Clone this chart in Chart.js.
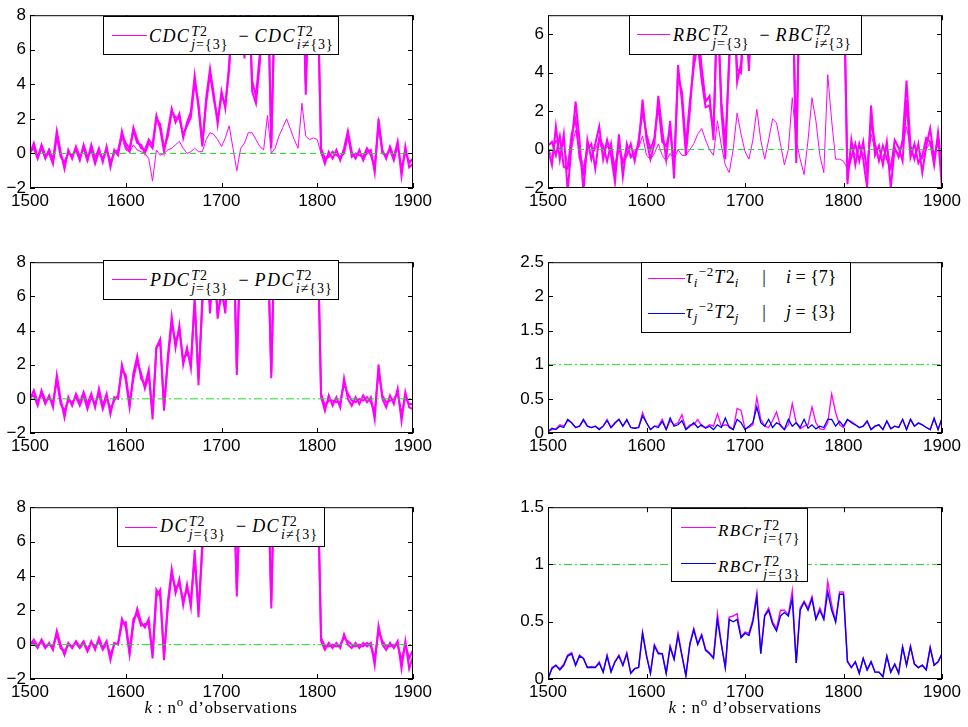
<!DOCTYPE html>
<html>
<head>
<meta charset="utf-8">
<script src="https://cdn.jsdelivr.net/npm/chart.js@4.4.0/dist/chart.umd.min.js"></script>
<style>
  html, body { margin: 0; background: #fff; }
  body { width: 968px; height: 727px; position: relative; overflow: hidden; }
  canvas { position: absolute; }
  .box { position: absolute; box-sizing: border-box; border: 1px solid #000; background: #fff; }
  .smp { position: absolute; height: 1px; }
  .tx { position: absolute; white-space: nowrap; font-family: 'Liberation Serif', serif; font-size: 18px; line-height: 20px; color: #000; }
  .m { font-style: italic; letter-spacing: 1.4px; }
  .ss { display: inline-block; vertical-align: middle; font-size: 14px; line-height: 13px; margin-left: 1px; letter-spacing: 1px; }
  .ss > span { display: block; }
  .op { margin: 0 6px 0 10px; }
  .sb { font-size: 13px; position: relative; top: 4px; letter-spacing: 1px; }
  .sp { font-size: 13px; position: relative; top: -7px; letter-spacing: 1px; }
  .xl { position: absolute; top: 698px; white-space: nowrap; font-family: 'Liberation Serif', serif; font-size: 17px; line-height: 20px; letter-spacing: 0.6px; transform: translateX(-50%); }
</style>
</head>
<body>
<canvas id="c1"></canvas>
<canvas id="c2"></canvas>
<canvas id="c3"></canvas>
<canvas id="c4"></canvas>
<canvas id="c5"></canvas>
<canvas id="c6"></canvas>

<div class="box" style="left:103px;top:16px;width:236px;height:39px"></div>
<div class="smp" style="left:112px;top:35px;width:35px;background:#f0f"></div>
<div class="tx" style="left:149px;top:25px"><span class="m">CDC</span><span class="ss"><span><i>T</i>2</span><span><i>j</i>={3}</span></span><span class="op">−</span><span class="m">CDC</span><span class="ss"><span><i>T</i>2</span><span><i>i</i>≠{3}</span></span></div>

<div class="box" style="left:629px;top:15px;width:233px;height:40px"></div>
<div class="smp" style="left:637px;top:34px;width:33px;background:#f0f"></div>
<div class="tx" style="left:673px;top:24px"><span class="m">RBC</span><span class="ss"><span><i>T</i>2</span><span><i>j</i>={3}</span></span><span class="op">−</span><span class="m">RBC</span><span class="ss"><span><i>T</i>2</span><span><i>i</i>≠{3}</span></span></div>

<div class="box" style="left:103px;top:260px;width:236px;height:40px"></div>
<div class="smp" style="left:112px;top:279px;width:35px;background:#f0f"></div>
<div class="tx" style="left:150px;top:269px"><span class="m">PDC</span><span class="ss"><span><i>T</i>2</span><span><i>j</i>={3}</span></span><span class="op">−</span><span class="m">PDC</span><span class="ss"><span><i>T</i>2</span><span><i>i</i>≠{3}</span></span></div>

<div class="box" style="left:641px;top:262px;width:210px;height:71px"></div>
<div class="smp" style="left:648px;top:278px;width:37px;background:#f0f"></div>
<div class="smp" style="left:648px;top:313px;width:37px;background:#00f"></div>
<div class="tx" style="left:686px;top:267px"><span class="m">τ</span><span class="sb"><i>i</i></span><span class="sp">−2</span><span class="m">T</span>2<span class="sb"><i>i</i></span><span style="margin:0 20px 0 23px">|</span><i>i</i> = {7}</div>
<div class="tx" style="left:686px;top:302px"><span class="m">τ</span><span class="sb"><i>j</i></span><span class="sp">−2</span><span class="m">T</span>2<span class="sb"><i>j</i></span><span style="margin:0 20px 0 23px">|</span><i>j</i> = {3}</div>

<div class="box" style="left:117px;top:507px;width:208px;height:40px"></div>
<div class="smp" style="left:125px;top:527px;width:32px;background:#f0f"></div>
<div class="tx" style="left:160px;top:515px"><span class="m">DC</span><span class="ss"><span><i>T</i>2</span><span><i>j</i>={3}</span></span><span class="op">−</span><span class="m">DC</span><span class="ss"><span><i>T</i>2</span><span><i>i</i>≠{3}</span></span></div>

<div class="box" style="left:671px;top:508px;width:137px;height:74px"></div>
<div class="smp" style="left:681px;top:527px;width:35px;background:#f0f"></div>
<div class="smp" style="left:681px;top:563px;width:35px;background:#00f"></div>
<div class="tx" style="left:718px;top:519px;font-size:17px"><span class="m">RBCr</span><span class="ss"><span><i>T</i>2</span><span><i>i</i>={7}</span></span></div>
<div class="tx" style="left:718px;top:555px;font-size:17px"><span class="m">RBCr</span><span class="ss"><span><i>T</i>2</span><span><i>j</i>={3}</span></span></div>

<div class="xl" style="left:221px"><i>k</i> : n<span class="sp">o</span> d’observations</div>
<div class="xl" style="left:745px"><i>k</i> : n<span class="sp">o</span> d’observations</div>

<script>
// observation index k, one sample every 4 observations
const K = [];
for (let k = 1500; k <= 1900; k += 4) K.push(k);

// CDC^T2_{j={3}} - CDC^T2_{i!={3}}
const cdcA = [
  0.0, 0.6, -0.2, 0.3, -0.3, 0.2, -0.4, 1.3, 0.1, -0.9,
  0.2, -0.3, 0.4, -0.2, 0.3, -0.4, 0.5, -0.3, 0.3, -0.5,
  0.4, -0.8, 0.2, -0.1, 1.3, 0.4, 0.1, 1.5, 0.8, 0.3,
  0.2, 0.8, 0.5, 2.2, 1.4, 0.1, 1.3, 2.6, 1.8, 2.3,
  0.9, 1.8, 2.4, 4.5, 2.6, 0.4, 3.2, 4.9, 3.4, 1.7,
  3.6, 2.6, 5.2, 9.5, 6.5, 8.2, 5.5, 10.5, 3.6, 2.9,
  5.2, 9.5, 11, 0.3, 10, 12, 11, 13, 10.5, 12,
  11, 12.5, 3.4, 11, 12, 11, 0.1, -0.6, 0.1, -0.3,
  0.2, -0.4, 0.3, 1.3, 0.1, -0.3, 0.2, -0.4, 0.1, 0.2,
  -1.1, 2.0, 0.2, -0.3, 0.4, -0.2, 0.7, -1.3, 0.4, -0.8,
  -0.6
];
const cdcB = [
  0.1, 0.3, -0.3, 0.5, -0.1, 0.0, -0.6, 1.0, -0.2, -0.5,
  0.0, -0.1, 0.2, -0.4, 0.5, -0.2, 0.2, -0.6, 0.1, -0.3,
  0.2, -0.5, 0.0, 0.2, 1.1, 0.6, 0.3, 1.3, 0.6, 0.5,
  0.0, 0.6, 0.3, 2.0, 1.7, 0.3, 1.0, 2.4, 2.1, 2.0,
  1.1, 1.6, 2.1, 4.1, 2.9, 0.6, 2.9, 4.6, 3.1, 2.0,
  3.3, 2.9, 4.8, 9, 7, 7.6, 5.8, 9.8, 4.2, 3.3,
  5.8, 9, 10.5, 0.6, 9.5, 11, 10.5, 12, 9.8, 11.5,
  10.5, 12, 4, 10.5, 11.5, 10, 0.3, -0.3, -0.2, 0.1,
  -0.1, -0.2, 0.0, 1.1, -0.2, 0.0, -0.1, -0.2, 0.3, -0.1,
  -0.8, 1.7, 0.0, -0.1, 0.2, -0.4, 0.5, -0.9, 0.1, -0.5,
  -0.3
];
const cdcC = [
  0.0, 0.4, -0.3, 0.2, -0.2, 0.3, -0.3, 1.0, 0.0, -0.7,
  0.1, -0.2, 0.3, -0.1, 0.2, -0.5, 0.3, -0.2, 0.2, -0.4,
  0.3, -0.7, 0.1, 0.0, 0.9, 0.2, 0.1, 0.5, 0.2, 0.1,
  0.0, -0.3, -1.6, 0.2, -0.1, 0.0, 0.2, 0.3, 0.5, 0.7,
  0.3, 0.0, 0.1, 0.3, 0.1, 0.1, 0.8, 1.2, 1.1, 0.8,
  0.4, 0.9, 1.6, 0.3, -1.0, 0.3, 0.6, 1.2, 1.2, 0.8,
  0.4, 0.2, 2.2, 0.0, 0.3, 1.0, 1.5, 2.0, 1.4, 0.8,
  0.3, 2.9, 1.0, 0.8, 0.9, 0.8, 0.0, -0.4, 0.0, -0.2,
  0.1, -0.3, 0.1, 0.9, 0.0, -0.2, 0.1, -0.3, 0.0, 0.1,
  -0.9, 1.5, 0.1, -0.2, 0.3, -0.1, 0.5, -1.0, 0.3, -0.6,
  -0.4
];

// RBC^T2_{j={3}} - RBC^T2_{i!={3}}
const rbcA = [
  0.0, -0.8, 1.2, -0.5, 0.8, -2.2, 0.3, 2.5, 0.5, -2.2,
  0.5, -0.5, 0.3, 1.2, -0.5, 0.5, -0.3, -1.7, 0.8, -1.4,
  0.3, -0.4, -0.2, 0.2, 2.6, 0.5, -0.5, 0.3, 2.8, 1.0,
  -0.5, 1.5, -1.5, 4.4, 2.5, -0.3, 2.0, 4.8, 6.5, 4.3,
  2.5, 2.8, 0.5, 8, 2.0, -0.5, 5, 9, 3.5, 4.5,
  8, 4.1, 9, 10, 8.5, 5, 9, 5.5, 9, 10,
  9, 5, 9.5, -0.7, 10, 11, 12, 11, 12, 11,
  12, 11, 10, 12, 11, 10, -1.8, 0.5, -0.8, 0.3,
  -0.5, -2.0, 2.3, -0.3, 0.2, -0.8, 0.4, -2.0, 0.1, -0.4,
  0.5, 3.6, 0.2, -0.5, 0.3, -1.2, 0.2, 1.1, -0.5, 0.6,
  -2.0
];
const rbcB = [
  0.2, 0.4, -0.3, 0.7, -0.9, -1.0, 0.8, 1.6, -0.4, -1.2,
  0.0, 0.3, -1.0, 0.6, 0.2, -0.6, 0.3, -1.2, 0.2, -0.7,
  -0.3, 0.3, -0.6, 0.5, 2.0, 0.8, 0.0, 0.6, 2.3, 0.4,
  0.2, 1.0, -0.8, 3.8, 3.0, 0.2, 2.5, 4.3, 5.5, 3.6,
  2.2, 2.3, 1.0, 7.5, 2.5, 0.3, 4.5, 8.5, 4.2, 4.0,
  7.5, 4.5, 8.5, 9.5, 8, 5.5, 8.5, 6, 8.5, 9.5,
  8.5, 5.5, 9, -0.3, 9.5, 10.5, 11.5, 10.5, 11.5, 10.5,
  11.5, 10.5, 9.5, 11.5, 10.5, 9.5, -1.2, -0.4, 0.3, -0.6,
  0.4, -1.2, 1.5, 0.3, -0.6, 0.2, -0.5, -1.0, 0.5, 0.1,
  -0.6, 2.6, -0.4, 0.3, -0.7, -0.3, 0.6, 0.4, -0.8, 0.9,
  -1.0
];
const rbcC = [
  0.1, -0.4, 0.5, 0.0, 0.3, -0.8, 0.1, 1.0, 0.0, -0.9,
  0.2, -0.2, 0.0, 0.5, -0.3, 0.2, -0.2, -0.8, 0.4, -0.6,
  0.1, -0.3, 0.0, 0.1, 0.7, -0.3, -0.5, -0.2, 0.3, -0.3,
  -0.6, -0.2, -0.5, 0.0, -0.3, -0.3, 0.0, 0.3, 0.8, 1.1,
  0.5, 0.0, -0.3, 1.5, 0.2, -0.8, -1.2, 0.0, 1.9, 0.8,
  -0.1, -0.5, 0.5, 2.1, 0.5, -0.5, 0.5, 1.6, 1.4, 0.3,
  -0.8, 0.0, 2.7, 0.5, -0.5, -1.3, 0.5, 2.7, 1.5, -0.3,
  -1.2, 3.9, 1.5, -0.5, -0.5, -0.6, -1.0, 0.2, -0.3, 0.1,
  -0.2, -0.8, 0.8, 0.0, -0.3, -0.4, 0.2, -0.9, 0.0, -0.2,
  0.2, 1.2, 0.0, -0.3, 0.1, -0.5, 0.0, 0.4, -0.2, 0.3,
  -0.9
];

// PDC^T2_{j={3}} - PDC^T2_{i!={3}}
const pdcA = [
  0.0, 0.5, -0.2, 0.3, -0.3, 0.2, -0.5, 1.4, 0.0, -1.1,
  0.1, -0.4, 0.3, -0.2, 0.4, -0.3, 0.3, -0.5, 0.6, -0.4,
  0.3, -0.9, 0.1, 0.0, 2.0, 1.1, -0.5, 1.5, 2.5, 1.2,
  0.8, 1.7, -1.2, 3.0, 3.5, -0.7, 2.5, 4.8, 3.0, 4.3,
  2.0, 3.0, 1.8, 6.0, 0.8, 6.0, 9.0, 5.0, 8.5, 4.7,
  6.5, 5.0, 9.5, 11, 1.4, 10, 11, 12, 11, 12,
  11, 12, 10, 1.2, 11, 12, 13, 12, 13, 12,
  12, 13, 12, 11, 12, 11, 0.1, -0.7, 0.2, -0.4,
  0.1, -0.5, 1.2, 0.0, -0.4, 0.1, -0.3, 0.2, -0.2, 0.1,
  -1.2, 2.0, 0.0, -0.5, 0.2, -0.3, 0.6, -1.3, 0.4, -0.5,
  -0.6
];
const pdcB = [
  0.1, 0.2, -0.4, 0.5, -0.1, 0.0, -0.2, 1.1, -0.3, -0.7,
  -0.1, -0.2, 0.1, -0.4, 0.2, -0.6, 0.1, -0.3, 0.3, -0.6,
  0.1, -0.6, -0.1, 0.2, 1.7, 1.4, -0.3, 1.2, 2.2, 1.5,
  0.6, 1.4, -0.8, 3.0, 3.3, -0.4, 2.2, 4.4, 3.3, 4.0,
  2.3, 2.7, 2.1, 5.6, 1.2, 5.5, 8.6, 5.4, 8, 5.0,
  6.0, 5.4, 9, 10.5, 1.8, 9.5, 10.5, 11.5, 10.5, 11.5,
  10.5, 11.5, 9.5, 1.5, 10.5, 11.5, 12.5, 11.5, 12.5, 11.5,
  11.5, 12.5, 11.5, 10.5, 11.5, 10.5, 0.3, -0.4, -0.1, -0.1,
  -0.2, -0.2, 0.9, 0.3, -0.1, -0.2, 0.0, -0.1, 0.1, -0.2,
  -0.8, 1.6, 0.2, -0.2, -0.1, 0.0, 0.3, -0.9, 0.1, -0.3,
  -0.3
];

// tau^-2 T2 for i={7} and j={3}
const tauI = [
  0.02, 0.05, 0.06, 0.12, 0.1, 0.18, 0.15, 0.08, 0.1, 0.18,
  0.1, 0.08, 0.1, 0.06, 0.1, 0.2, 0.08, 0.14, 0.2, 0.1,
  0.18, 0.08, 0.07, 0.08, 0.3, 0.15, 0.05, 0.1, 0.1, 0.2,
  0.05, 0.18, 0.12, 0.15, 0.27, 0.06, 0.12, 0.12, 0.2, 0.1,
  0.08, 0.12, 0.1, 0.28, 0.1, 0.12, 0.1, 0.05, 0.36, 0.33,
  0.06, 0.08, 0.12, 0.52, 0.2, 0.1, 0.08, 0.18, 0.31, 0.1,
  0.05, 0.12, 0.43, 0.15, 0.06, 0.1, 0.12, 0.38, 0.15, 0.06,
  0.05, 0.15, 0.57, 0.3, 0.12, 0.08, 0.19, 0.17, 0.12, 0.08,
  0.1, 0.16, 0.05, 0.1, 0.12, 0.05, 0.17, 0.06, 0.1, 0.08,
  0.2, 0.05, 0.2, 0.1, 0.14, 0.12, 0.08, 0.05, 0.2, 0.05,
  0.2
];
const tauJ = [
  0.02, 0.07, 0.05, 0.1, 0.08, 0.2, 0.15, 0.08, 0.1, 0.2,
  0.1, 0.08, 0.1, 0.05, 0.1, 0.18, 0.08, 0.15, 0.2, 0.1,
  0.2, 0.08, 0.07, 0.08, 0.25, 0.15, 0.05, 0.1, 0.08, 0.17,
  0.05, 0.22, 0.1, 0.12, 0.18, 0.05, 0.1, 0.15, 0.08, 0.12,
  0.07, 0.1, 0.05, 0.12, 0.08, 0.22, 0.08, 0.05, 0.2, 0.15,
  0.05, 0.1, 0.15, 0.38, 0.15, 0.1, 0.2, 0.08, 0.15, 0.12,
  0.05, 0.2, 0.1, 0.15, 0.08, 0.2, 0.07, 0.12, 0.06, 0.1,
  0.08, 0.2, 0.2, 0.1, 0.17, 0.1, 0.2, 0.15, 0.12, 0.08,
  0.1, 0.18, 0.05, 0.1, 0.12, 0.05, 0.18, 0.06, 0.1, 0.08,
  0.2, 0.05, 0.2, 0.1, 0.15, 0.12, 0.08, 0.05, 0.22, 0.05,
  0.22
];

// DC^T2_{j={3}} - DC^T2_{i!={3}}
const dcA = [
  0.0, 0.3, -0.1, 0.2, -0.2, 0.1, -0.3, 0.8, 0.0, -0.6,
  0.1, -0.2, 0.2, -0.1, 0.2, -0.3, 0.2, -0.3, 0.4, -0.2,
  0.2, -0.9, 0.1, 0.0, 1.5, 1.0, -0.6, 1.2, 2.1, 1.3,
  1.0, 1.5, -0.8, 2.8, 3.2, -0.9, 2.5, 4.4, 3.0, 3.8,
  2.3, 3.5, 2.2, 5.5, 1.6, 6.0, 9.0, 10, 11, 10,
  9, 7.5, 10, 11, 2.8, 10, 12, 13, 12, 13,
  12, 13, 11, 2.1, 12, 13, 14, 13, 14, 13,
  13, 14, 13, 12, 13, 11, 0.2, -0.3, 0.1, -0.2,
  0.1, -0.2, 0.6, 0.0, -0.2, 0.1, -0.2, 0.1, -0.1, 0.1,
  -1.2, 1.1, 0.0, -0.3, 0.1, -0.2, 0.2, -1.4, 0.2, -1.4,
  -0.7
];
const dcB = [
  0.1, 0.1, -0.2, 0.3, -0.1, 0.0, -0.1, 0.6, -0.2, -0.4,
  0.0, -0.1, 0.1, -0.2, 0.1, -0.4, 0.1, -0.1, 0.2, -0.3,
  0.1, -0.6, 0.0, 0.1, 1.2, 1.3, -0.4, 1.5, 1.8, 1.1,
  1.2, 1.2, -0.5, 3.2, 2.8, -0.6, 2.2, 4.1, 3.3, 3.5,
  2.6, 3.2, 2.6, 5.0, 2.0, 5.5, 8.6, 9.5, 10.5, 9.5,
  8.6, 7.8, 9.5, 10.5, 3.2, 9.5, 11.5, 12.5, 11.5, 12.5,
  11.5, 12.5, 10.5, 2.5, 11.5, 12.5, 13.5, 12.5, 13.5, 12.5,
  12.5, 13.5, 12.5, 11.5, 12.5, 10.5, 0.4, -0.1, -0.1, 0.0,
  -0.1, 0.0, 0.4, 0.2, 0.0, -0.1, 0.0, -0.1, 0.1, -0.1,
  -0.8, 0.8, 0.2, -0.1, -0.1, 0.0, 0.0, -0.9, 0.0, -0.8,
  -0.3
];

// RBCr^T2 for i={7} and j={3}
const rbcrI = [
  0.0, 0.1, 0.12, 0.09, 0.13, 0.21, 0.23, 0.12, 0.21, 0.18,
  0.1, 0.11, 0.1, 0.15, 0.06, 0.21, 0.07, 0.15, 0.21, 0.12,
  0.23, 0.05, 0.09, 0.1, 0.41, 0.21, 0.05, 0.3, 0.23, 0.22,
  0.05, 0.29, 0.18, 0.4, 0.21, 0.03, 0.31, 0.44, 0.31, 0.39,
  0.26, 0.23, 0.19, 0.57, 0.31, 0.1, 0.54, 0.55, 0.57, 0.37,
  0.41, 0.4, 0.52, 0.75, 0.23, 0.56, 0.62, 0.5, 0.44, 0.6,
  0.6, 0.56, 0.77, 0.14, 0.62, 0.68, 0.62, 0.72, 0.53, 0.62,
  0.53, 0.85, 0.65, 0.5, 0.76, 0.76, 0.16, 0.1, 0.15, 0.05,
  0.18, 0.08, 0.15, 0.06, 0.06, 0.02, 0.2, 0.06, 0.13, 0.05,
  0.28, 0.12, 0.29, 0.13, 0.1, 0.12, 0.08, 0.28, 0.12, 0.15,
  0.22
];
const rbcrJ = [
  0.0, 0.09, 0.12, 0.08, 0.12, 0.2, 0.22, 0.12, 0.2, 0.18,
  0.1, 0.1, 0.1, 0.14, 0.06, 0.2, 0.06, 0.15, 0.2, 0.12,
  0.22, 0.05, 0.09, 0.1, 0.4, 0.2, 0.05, 0.29, 0.22, 0.22,
  0.05, 0.28, 0.17, 0.38, 0.2, 0.03, 0.3, 0.43, 0.3, 0.38,
  0.25, 0.22, 0.18, 0.52, 0.3, 0.1, 0.52, 0.5, 0.52, 0.36,
  0.4, 0.38, 0.5, 0.72, 0.22, 0.55, 0.6, 0.48, 0.42, 0.55,
  0.58, 0.55, 0.7, 0.14, 0.6, 0.67, 0.6, 0.7, 0.52, 0.6,
  0.52, 0.76, 0.6, 0.5, 0.74, 0.74, 0.15, 0.1, 0.15, 0.05,
  0.18, 0.08, 0.15, 0.06, 0.06, 0.02, 0.2, 0.06, 0.13, 0.05,
  0.28, 0.12, 0.28, 0.13, 0.1, 0.12, 0.08, 0.27, 0.12, 0.15,
  0.22
];

// axes
const xTicks = [1500, 1600, 1700, 1800, 1900];
const yMins = [-2, -2, -2, 0, -2, 0];
const yMaxs = [8, 7, 8, 2.5, 8, 1.5];
const ySteps = [2, 2, 2, 0.5, 2, 0.5];
const refLevels = [0, 0, 0, 1, 0, 1];

const MAG = '#ff00ff';
const BLUE = '#0000ff';
const GREEN = '#22dd22';

// plot boxes in page pixels
const frames = [
  { x: 30, y: 11, w: 383, h: 177, padL: 30, padR: 30 },
  { x: 548, y: 11, w: 394, h: 177, padL: 50, padR: 26 },
  { x: 30, y: 258, w: 383, h: 175, padL: 30, padR: 30 },
  { x: 548, y: 258, w: 394, h: 175, padL: 50, padR: 26 },
  { x: 30, y: 503, w: 383, h: 176, padL: 30, padR: 30 },
  { x: 548, y: 503, w: 394, h: 176, padL: 50, padR: 26 },
];

const panelSeries = [
  [[cdcA, MAG, 2], [cdcB, MAG, 2], [cdcC, MAG, 1]],
  [[rbcA, MAG, 2], [rbcB, MAG, 2], [rbcC, MAG, 1]],
  [[pdcA, MAG, 2], [pdcB, MAG, 2]],
  [[tauJ, BLUE, 1.3], [tauI, MAG, 1.3]],
  [[dcA, MAG, 2], [dcB, MAG, 2]],
  [[rbcrJ, BLUE, 1.4], [rbcrI, MAG, 1.4]],
];
const refDash = [[6, 4], [6, 4], [8, 3, 2, 3], [8, 3, 2, 3], [8, 3, 2, 3], [8, 3, 2, 3]];

const tickFont = { family: "'Liberation Sans', Arial, sans-serif", size: 17 };
const fmt = v => (v < 0 ? '\u2212' : '') + Math.abs(v);

// MATLAB-like box with inward ticks on all four sides
const framePlugin = {
  id: 'frame',
  afterDatasetsDraw(chart) {
    const { ctx, chartArea: a, scales: { x, y } } = chart;
    ctx.save();
    ctx.strokeStyle = '#000';
    ctx.lineWidth = 1;
    ctx.beginPath();
    x.ticks.forEach(t => {
      const px = Math.round(x.getPixelForValue(t.value)) + 0.5;
      ctx.moveTo(px, a.bottom); ctx.lineTo(px, a.bottom - 5);
      ctx.moveTo(px, a.top); ctx.lineTo(px, a.top + 5);
    });
    y.ticks.forEach(t => {
      const py = Math.round(y.getPixelForValue(t.value)) + 0.5;
      ctx.moveTo(a.left, py); ctx.lineTo(a.left + 5, py);
      ctx.moveTo(a.right, py); ctx.lineTo(a.right - 5, py);
    });
    ctx.stroke();
    ctx.strokeRect(a.left + 0.5, a.top + 0.5, a.width - 1, a.height - 1);
    ctx.restore();
  }
};

function pts(vals) {
  return vals.map((v, i) => ({ x: K[i], y: v }));
}

function makeChart(n) {
  const f = frames[n];
  const cv = document.getElementById('c' + (n + 1));
  cv.width = f.padL + f.w + f.padR;
  cv.height = 10 + f.h + 30;
  cv.style.left = (f.x - f.padL) + 'px';
  cv.style.top = (f.y - 10) + 'px';

  const datasets = [{
    data: [{ x: xTicks[0], y: refLevels[n] }, { x: xTicks[xTicks.length - 1], y: refLevels[n] }],
    borderColor: GREEN, borderWidth: 1, borderDash: refDash[n]
  }];
  panelSeries[n].forEach(([vals, color, w]) => {
    datasets.push({ data: pts(vals), borderColor: color, borderWidth: w });
  });

  new Chart(cv, {
    type: 'line',
    data: { datasets },
    plugins: [framePlugin],
    options: {
      responsive: false,
      animation: false,
      devicePixelRatio: 1,
      layout: { padding: { top: 10, right: f.padR, left: 0, bottom: 0 } },
      elements: { point: { radius: 0 }, line: { tension: 0 } },
      plugins: { legend: { display: false }, tooltip: { enabled: false } },
      scales: {
        x: {
          type: 'linear', min: xTicks[0], max: xTicks[xTicks.length - 1],
          grid: { display: false, drawTicks: false }, border: { display: false },
          ticks: { stepSize: 100, maxRotation: 0, autoSkip: false, padding: 3, color: '#000', font: tickFont, callback: v => String(v) },
          afterFit(s) { s.height = 30; }
        },
        y: {
          min: yMins[n], max: yMaxs[n],
          grid: { display: false, drawTicks: false }, border: { display: false },
          ticks: { stepSize: ySteps[n], includeBounds: false, padding: 4, color: '#000', font: tickFont, callback: fmt },
          afterFit(s) { s.width = f.padL; }
        }
      }
    }
  });
}

for (let n = 0; n < 6; n++) makeChart(n);
</script>
</body>
</html>
